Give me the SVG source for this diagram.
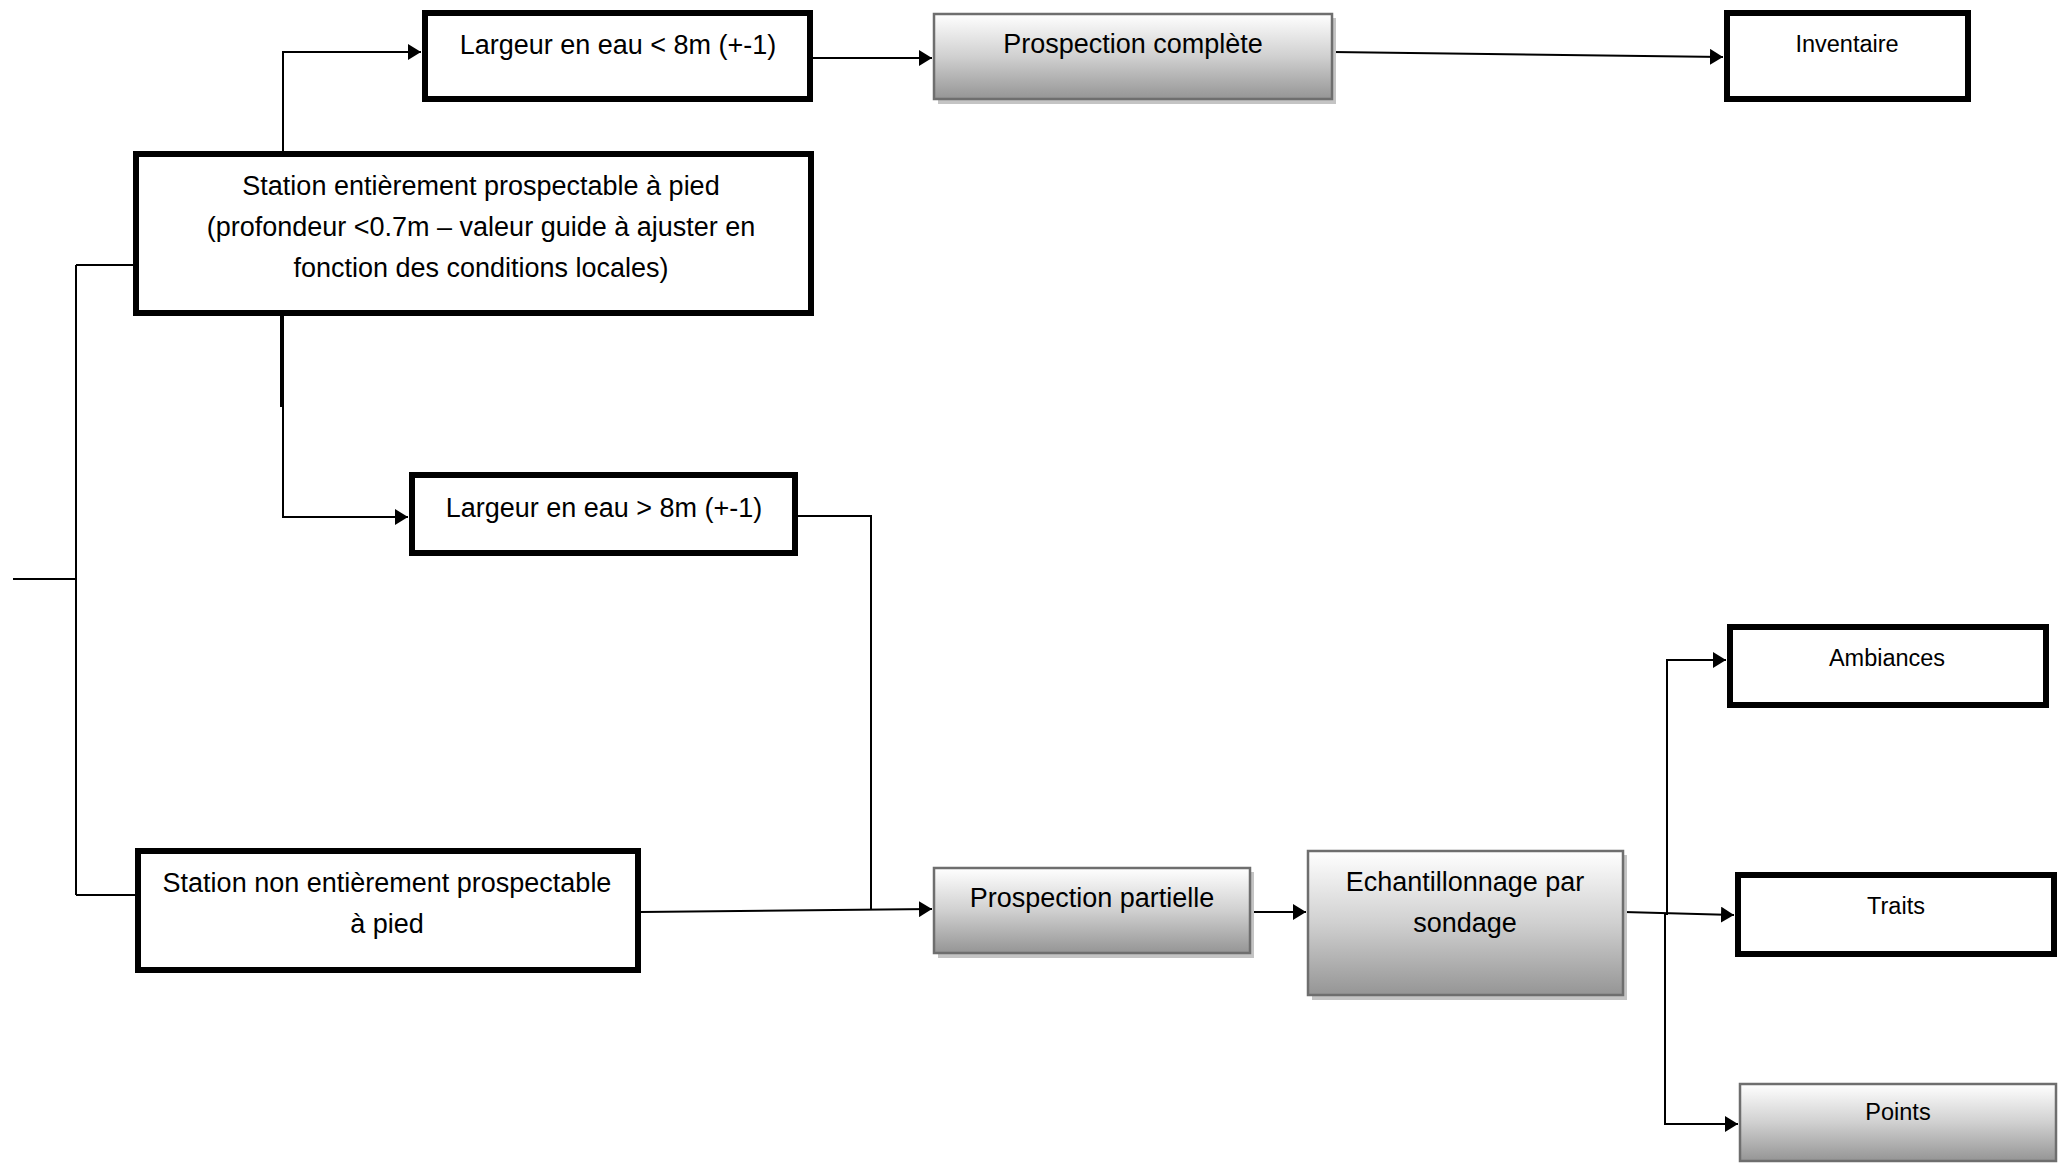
<svg xmlns="http://www.w3.org/2000/svg" width="2058" height="1164" viewBox="0 0 2058 1164">
<style>
.box{fill:#fff;stroke:#000;stroke-width:6}
.gbox{fill:url(#grad);stroke:#6e6e6e;stroke-width:2.5}
.shadow{fill:#c4c4c4}
.t{font-family:"Liberation Sans",Arial,sans-serif;font-size:27px;fill:#000;text-anchor:middle}
.s{font-family:"Liberation Sans",Arial,sans-serif;font-size:23.5px;fill:#000;text-anchor:middle}
.c{fill:none;stroke:#000;stroke-width:2}
</style>
<defs>
<linearGradient id="grad" x1="0" y1="0" x2="0" y2="1">
<stop offset="0" stop-color="#ffffff"/>
<stop offset="0.5" stop-color="#d0d0d0"/>
<stop offset="1" stop-color="#959595"/>
</linearGradient>
<marker id="arr" viewBox="0 0 13 16" refX="13" refY="8" markerWidth="13" markerHeight="16" markerUnits="userSpaceOnUse" orient="auto">
<path d="M0,0 L13,8 L0,16 z" fill="#000"/>
</marker>
</defs>
<g id="connectors">
<path class="c" d="M13,579 H76"/>
<path class="c" d="M76,265 V895"/>
<path class="c" d="M76,265 H134"/>
<path class="c" d="M76,895 H136"/>
<path class="c" d="M283,151 V52 H421" marker-end="url(#arr)"/>
<path class="c" d="M813,58 H932" marker-end="url(#arr)"/>
<path class="c" d="M1333,52 L1723,57" marker-end="url(#arr)"/>
<path d="M282,316 V407" stroke="#000" stroke-width="4" fill="none"/>
<path class="c" d="M283,407 V517 H408" marker-end="url(#arr)"/>
<path class="c" d="M798,516 H871 V909"/>
<path class="c" d="M641,912 L932,909" marker-end="url(#arr)"/>
<path class="c" d="M1251,912 H1306" marker-end="url(#arr)"/>
<path class="c" d="M1624,912 L1734,915" marker-end="url(#arr)"/>
<path class="c" d="M1667,915 V660 H1726" marker-end="url(#arr)"/>
<path class="c" d="M1665,913 V1124 H1738" marker-end="url(#arr)"/>
</g>
<g id="n_largeur_lt">
<rect class="box" x="425" y="13" width="385" height="86"/>
<text class="t" x="618" y="54">Largeur en eau &lt; 8m (+-1)</text>
</g>
<g id="n_prospection_complete">
<rect class="shadow" x="938" y="18" width="398" height="86"/>
<rect class="gbox" x="934" y="14" width="398" height="85"/>
<text class="t" x="1133" y="53">Prospection complète</text>
</g>
<g id="n_inventaire">
<rect class="box" x="1727" y="13" width="241" height="86"/>
<text class="s" x="1847" y="52">Inventaire</text>
</g>
<g id="n_station_entiere">
<rect class="box" x="136" y="154" width="675" height="159"/>
<text class="t" x="481" y="195">Station entièrement prospectable à pied</text>
<text class="t" x="481" y="236">(profondeur &lt;0.7m – valeur guide à ajuster en</text>
<text class="t" x="481" y="277">fonction des conditions locales)</text>
</g>
<g id="n_largeur_gt">
<rect class="box" x="412" y="475" width="383" height="78"/>
<text class="t" x="604" y="517">Largeur en eau &gt; 8m (+-1)</text>
</g>
<g id="n_station_non">
<rect class="box" x="138" y="851" width="500" height="119"/>
<text class="t" x="387" y="892">Station non entièrement prospectable</text>
<text class="t" x="387" y="933">à pied</text>
</g>
<g id="n_prospection_partielle">
<rect class="shadow" x="938" y="872" width="316" height="86"/>
<rect class="gbox" x="934" y="868" width="316" height="85"/>
<text class="t" x="1092" y="907">Prospection partielle</text>
</g>
<g id="n_echantillonnage">
<rect class="shadow" x="1312" y="855" width="315" height="145"/>
<rect class="gbox" x="1308" y="851" width="315" height="144"/>
<text class="t" x="1465" y="891">Echantillonnage par</text>
<text class="t" x="1465" y="932">sondage</text>
</g>
<g id="n_ambiances">
<rect class="box" x="1730" y="627" width="316" height="78"/>
<text class="s" x="1887" y="666">Ambiances</text>
</g>
<g id="n_traits">
<rect class="box" x="1738" y="875" width="316" height="79"/>
<text class="s" x="1896" y="914">Traits</text>
</g>
<g id="n_points">
<rect class="gbox" x="1740" y="1084" width="316" height="77"/>
<text class="s" x="1898" y="1120">Points</text>
</g>
</svg>
